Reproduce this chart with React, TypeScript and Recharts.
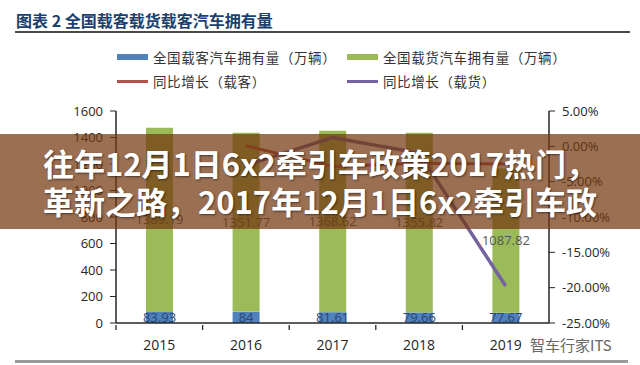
import { ComposedChart, Bar, Line, XAxis, YAxis, LabelList } from 'recharts'

const years = ['2015', '2016', '2017', '2018', '2019']
const passengerCars = [83.93, 84, 81.61, 79.66, 77.67]
const cargoCars = [1389.19, 1351.77, 1368.62, 1355.82, 1087.82]
const passengerGrowth = [null, 0.08, -2.85, -2.39, -2.5]
const cargoGrowth = [null, -2.69, 1.25, -0.94, -19.77]
const leftTicks = [0, 200, 400, 600, 800, 1000, 1200, 1400, 1600]
const rightTicks = [-25, -20, -15, -10, -5, 0, 5]

const BLUE = '#4f81bd'
const GREEN = '#9bbb59'
const RED = '#b5504d'
const PURPLE = '#7463a0'
const AXIS = '#262626'
const NUM_FONT = '"Open Sans", "Liberation Sans", sans-serif'
const CJK_FONT = '"Noto Sans CJK SC", sans-serif'

const PLOT_LEFT = 116
const PLOT_RIGHT = 549
const BAND = (PLOT_RIGHT - PLOT_LEFT) / years.length

const data = years.map((year, i) => ({
  year,
  passenger: passengerCars[i],
  cargo: cargoCars[i],
  passengerGrowth: passengerGrowth[i],
  cargoGrowth: cargoGrowth[i],
}))

const YearTick = (props: any) => {
  const { x, y, payload } = props
  const bx = x - BAND / 2
  return (
    <g>
      <line x1={bx} y1={y} x2={bx} y2={y + 5} stroke={AXIS} strokeWidth={1.3} />
      <text x={x} y={y + 25} textAnchor="middle" fontSize={14} fill="#262626" fontFamily={NUM_FONT}>
        {payload.value}
      </text>
    </g>
  )
}

const legendItems = [
  { label: '全国载客汽车拥有量（万辆）', color: BLUE, kind: 'bar', left: 117, top: 57 },
  { label: '全国载货汽车拥有量（万辆）', color: GREEN, kind: 'bar', left: 347, top: 57 },
  { label: '同比增长（载客）', color: RED, kind: 'line', left: 117, top: 81 },
  { label: '同比增长（载货）', color: PURPLE, kind: 'line', left: 347, top: 81 },
]

export default function App() {
  return (
    <div style={{ position: 'fixed', left: 0, top: 0, width: 640, height: 365, background: '#fff', overflow: 'hidden' }}>
      {/* title */}
      <div
        style={{
          position: 'absolute',
          left: 16,
          top: 9,
          fontFamily: CJK_FONT,
          fontWeight: 700,
          fontSize: 16,
          color: '#1b3f6e',
          lineHeight: '22px',
          whiteSpace: 'nowrap',
        }}
      >
        图表 2 全国载客载货载客汽车拥有量
      </div>
      <div style={{ position: 'absolute', left: 15, top: 31, width: 615, height: 2, background: '#4a4a4a' }} />

      {/* legend */}
      {legendItems.map((item) => (
        <div key={item.label} style={{ position: 'absolute', left: item.left, top: item.top - 10, height: 20, display: 'flex', alignItems: 'center' }}>
          <div style={{ width: 31, height: item.kind === 'bar' ? 6 : 3, background: item.color }} />
          <span style={{ marginLeft: 5, fontFamily: CJK_FONT, fontSize: 13.5, color: '#333', whiteSpace: 'nowrap', letterSpacing: 0.6 }}>
            {item.label}
          </span>
        </div>
      ))}

      <div style={{ position: 'absolute', left: 0, top: 0 }}>
        <ComposedChart width={640} height={365} data={data} margin={{ top: 111, right: 0, bottom: 0, left: 0 }}>
          <XAxis
            dataKey="year"
            xAxisId="x"
            height={42}
            axisLine={{ stroke: AXIS, strokeWidth: 1.5 }}
            tickLine={false}
            tickSize={0}
            tick={<YearTick />}
            interval={0}
          />
          <YAxis
            yAxisId="left"
            width={PLOT_LEFT}
            domain={[0, 1600]}
            ticks={leftTicks}
            tickMargin={7}
            axisLine={{ stroke: AXIS, strokeWidth: 1.5 }}
            tickLine={{ stroke: AXIS }}
            tick={{ fontSize: 13, fill: '#262626', fontFamily: NUM_FONT }}
          />
          <YAxis
            yAxisId="right"
            orientation="right"
            width={640 - PLOT_RIGHT}
            domain={[-25, 5]}
            ticks={rightTicks}
            tickMargin={7}
            tickFormatter={(v) => `${v.toFixed(2)}%`}
            axisLine={{ stroke: AXIS, strokeWidth: 1.5 }}
            tickLine={{ stroke: AXIS }}
            tick={{ fontSize: 13, fill: '#262626', fontFamily: NUM_FONT, textAnchor: 'start' }}
          />
          <Bar dataKey="passenger" xAxisId="x" yAxisId="left" stackId="a" fill={BLUE} barSize={27} isAnimationActive={false}>
            <LabelList dataKey="passenger" position="center" fontSize={13} fill="#2a4570" fontFamily={NUM_FONT} />
          </Bar>
          <Bar dataKey="cargo" xAxisId="x" yAxisId="left" stackId="a" fill={GREEN} barSize={27} isAnimationActive={false}>
            <LabelList dataKey="cargo" position="center" fontSize={13} fill="#555" fontFamily={NUM_FONT} />
          </Bar>
          <Line
            dataKey="passengerGrowth"
            xAxisId="x"
            yAxisId="right"
            stroke={RED}
            strokeWidth={3}
            dot={false}
            isAnimationActive={false}
          />
          <Line
            dataKey="cargoGrowth"
            xAxisId="x"
            yAxisId="right"
            stroke={PURPLE}
            strokeWidth={3.5}
            dot={false}
            isAnimationActive={false}
          />
        </ComposedChart>
      </div>

      {/* headline banner laid over the chart */}
      <div
        style={{
          position: 'absolute',
          left: 0,
          top: 134,
          width: 640,
          height: 95,
          background: 'rgba(115,55,15,0.72)',
          color: '#fff',
          fontFamily: CJK_FONT,
          fontWeight: 700,
          fontSize: 31,
          lineHeight: '38px',
          textAlign: 'center',
          paddingTop: 10,
          boxSizing: 'border-box',
          textShadow: '1px 1px 2px rgba(0,0,0,0.5)',
          whiteSpace: 'nowrap',
        }}
      >
        <div>往年12月1日6x2牵引车政策2017热门，</div>
        <div>革新之路，2017年12月1日6x2牵引车政</div>
      </div>

      {/* watermark */}
      <div style={{ position: 'absolute', left: 530, top: 334, fontFamily: CJK_FONT, fontSize: 15, color: '#666', whiteSpace: 'nowrap' }}>
        智车行家ITS
      </div>
      <div style={{ position: 'absolute', left: 15, top: 360, width: 613, height: 3, background: '#9a9a9a' }} />
    </div>
  )
}
